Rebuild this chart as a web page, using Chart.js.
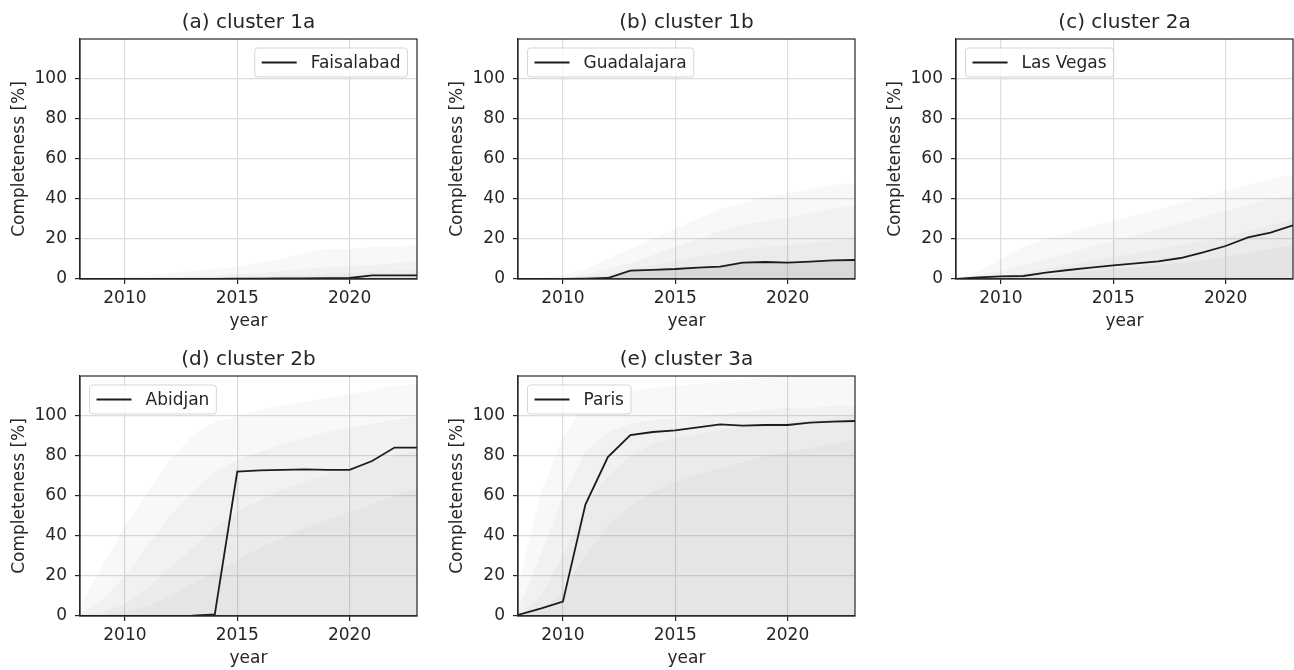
<!DOCTYPE html>
<html>
<head>
<meta charset="utf-8">
<script src="https://cdn.jsdelivr.net/npm/chart.js@4.4.1/dist/chart.umd.min.js"></script>
<style>
  html, body { margin: 0; padding: 0; background: #fff; overflow: hidden; }
  body { width: 1294px; height: 670px; position: relative; }
  canvas { position: absolute; }
</style>
</head>
<body>
<canvas id="pa" width="418" height="333" style="left:0px;top:0px"></canvas>
<canvas id="pb" width="418" height="333" style="left:438px;top:0px"></canvas>
<canvas id="pc" width="418" height="333" style="left:876px;top:0px"></canvas>
<canvas id="pd" width="418" height="333" style="left:0px;top:337px"></canvas>
<canvas id="pe" width="418" height="333" style="left:438px;top:337px"></canvas>
<script>
const years = [2008, 2009, 2010, 2011, 2012, 2013, 2014, 2015, 2016, 2017, 2018, 2019, 2020, 2021, 2022, 2023];
const xTicks = [2010, 2015, 2020];
const yTicks = [0, 20, 40, 60, 80, 100];

// highlighted city per cluster
const faisalabad  = [0, 0, 0, 0, 0, 0, 0.1, 0.2, 0.2, 0.3, 0.3, 0.4, 0.5, 1.8, 1.8, 1.8];
const guadalajara = [0, 0, 0, 0.2, 0.5, 4.2, 4.6, 5.0, 5.7, 6.2, 8.2, 8.5, 8.2, 8.7, 9.3, 9.5];
const lasVegas    = [0, 0.8, 1.3, 1.5, 3.2, 4.5, 5.7, 6.8, 7.8, 8.8, 10.5, 13.3, 16.5, 20.8, 23.2, 26.8];
const abidjan     = [0, 0, 0, 0, 0, 0.2, 0.8, 72.2, 72.8, 73.1, 73.3, 73.1, 73.1, 77.5, 84.2, 84.2];
const paris       = [0.5, 3.7, 7.2, 55.7, 79.5, 90.5, 92, 92.8, 94.3, 95.8, 95.2, 95.5, 95.5, 96.7, 97.2, 97.5];

// rough envelopes of the other cities in each cluster (faint grey mass)
const aOuter = [0, 0.5, 1, 2, 3, 4, 5, 6, 8, 10, 13, 15, 15, 16, 16, 17];
const aMid   = [0, 0, 0.3, 0.5, 1, 1.5, 2, 2.5, 3, 4, 5, 6, 6.5, 7, 8, 9];
const aInner = [0, 0, 0, 0.2, 0.4, 0.6, 0.8, 1, 1.3, 1.6, 2, 2.5, 3, 3.5, 4, 4.5];
const aBase  = [0, 0, 0, 0, 0.1, 0.2, 0.3, 0.4, 0.5, 0.7, 0.9, 1.1, 1.3, 1.6, 1.9, 2.2];

const bOuter = [0, 0.5, 2, 5, 10, 15, 20, 25, 30, 35, 38, 41, 43, 45, 47, 48];
const bMid   = [0, 0.2, 0.5, 2, 5, 8, 12, 16, 20, 24, 27, 29, 31, 33, 35, 37];
const bInner = [0, 0, 0.2, 1, 2.5, 5, 7, 9, 11, 13, 15, 16, 17, 18, 19, 20];
const bBase  = [0, 0, 0, 0.2, 0.5, 4, 4.5, 5, 5.6, 6.1, 8, 8.4, 8.1, 8.6, 9.2, 9.4];

const cOuter = [0, 4, 10, 16, 20, 23, 26, 29, 32, 35, 38, 41, 44, 47, 50, 52];
const cMid   = [0, 1.5, 4, 7, 10, 13, 16, 19, 22, 25, 28, 31, 34, 37, 40, 42];
const cInner = [0, 0.5, 1.5, 3, 5, 7, 9, 11, 13, 15, 17, 19, 21, 24, 27, 30];
const cBase  = [0, 0.2, 0.6, 1.2, 2, 3, 4, 5, 6, 7, 8, 9.5, 11, 13, 15, 17];

const dOuter = [5, 25, 45, 62, 78, 90, 97, 100, 103, 105, 107, 109, 111, 113, 115, 116];
const dMid   = [1, 8, 20, 35, 50, 62, 72, 78, 82, 86, 89, 92, 94, 96, 98, 100];
const dInner = [0, 2, 6, 14, 24, 34, 44, 52, 58, 63, 67, 71, 74, 77, 80, 83];
const dBase  = [0, 0.5, 2, 5, 10, 16, 22, 28, 34, 39, 44, 48, 52, 56, 60, 64];

const eOuter = [15, 60, 90, 105, 110, 112, 114, 115, 116, 117, 118, 119, 120, 120, 120, 120];
const eMid   = [3, 30, 60, 82, 92, 96, 98, 99, 100, 101, 102, 103, 104, 104, 105, 105];
const eInner = [0, 10, 30, 55, 70, 80, 86, 89, 91, 93, 95, 96, 97, 98, 99, 100];
const eBase  = [0, 3, 12, 30, 45, 55, 62, 67, 71, 74, 77, 80, 82, 84, 86, 88];

Chart.defaults.font.family = "'DejaVu Sans', sans-serif";
Chart.defaults.color = '#262626';

const INK = '#262626';

// box around the axes (matplotlib spines)
const frame = {
  id: 'frame',
  afterDatasetsDraw(chart) {
    const a = chart.chartArea, ctx = chart.ctx;
    ctx.save();
    ctx.strokeStyle = INK;
    ctx.lineWidth = 1.2;
    ctx.strokeRect(a.left, a.top, a.right - a.left, a.bottom - a.top);
    ctx.restore();
  }
};

// subplot title centred over the plot area, not the whole canvas
const plotTitle = {
  id: 'plotTitle',
  afterDraw(chart, args, opts) {
    const a = chart.chartArea, ctx = chart.ctx;
    ctx.save();
    ctx.font = "20px 'DejaVu Sans'";
    ctx.fillStyle = INK;
    ctx.textAlign = 'center';
    ctx.textBaseline = 'middle';
    ctx.fillText(opts.text, (a.left + a.right) / 2, 23);
    ctx.restore();
  }
};

// legend drawn inside the plot, like loc='upper left/right'
const insideLegend = {
  id: 'insideLegend',
  afterDatasetsDraw(chart, args, opts) {
    const ds = chart.data.datasets.find(d => d.label);
    if (!ds) return;
    const ctx = chart.ctx, a = chart.chartArea;
    ctx.save();
    ctx.font = "17px 'DejaVu Sans'";
    const tw = ctx.measureText(ds.label).width;
    const w = 7 + 35 + 14 + tw + 7, h = 29;
    const x = opts.side === 'right' ? a.right - 9.5 - w : a.left + 9.5;
    const y = a.top + 9;
    ctx.beginPath();
    ctx.roundRect(x, y, w, h, 3);
    ctx.fillStyle = 'rgba(255,255,255,0.8)';
    ctx.fill();
    ctx.strokeStyle = 'rgba(204,204,204,0.8)';
    ctx.lineWidth = 1;
    ctx.stroke();
    ctx.beginPath();
    ctx.moveTo(x + 7, y + h / 2);
    ctx.lineTo(x + 42, y + h / 2);
    ctx.strokeStyle = ds.borderColor;
    ctx.lineWidth = ds.borderWidth;
    ctx.stroke();
    ctx.fillStyle = INK;
    ctx.textBaseline = 'middle';
    ctx.fillText(ds.label, x + 56, y + h / 2 + 1);
    ctx.restore();
  }
};

function band(values, alpha) {
  return {
    data: values,
    borderWidth: 0,
    pointRadius: 0,
    fill: 'origin',
    backgroundColor: `rgba(120,120,120,${alpha})`
  };
}

function panel(id, title, city, values, layers, side, baseAlpha) {
  const bands = layers.map((l, i) => band(l, i === layers.length - 1 ? baseAlpha : 0.05));
  new Chart(document.getElementById(id), {
    type: 'line',
    data: {
      labels: years,
      datasets: [
        {
          label: city,
          data: values,
          borderColor: '#1c1c1c',
          borderWidth: 1.8,
          pointRadius: 0,
          fill: false
        },
        ...bands
      ]
    },
    options: {
      responsive: false,
      animation: false,
      devicePixelRatio: 1,
      layout: { padding: { left: 0, right: 1, top: 39, bottom: 0 } },
      plugins: {
        legend: { display: false },
        tooltip: { enabled: false },
        title: { display: false },
        plotTitle: { text: title },
        insideLegend: { side: side }
      },
      scales: {
        x: {
          type: 'linear',
          min: 2008,
          max: 2023,
          afterBuildTicks: s => { s.ticks = xTicks.map(v => ({ value: v })); },
          afterFit: s => { s.height = 54; },
          ticks: {
            callback: v => String(v),
            font: { size: 17 },
            color: INK,
            padding: 4,
            maxRotation: 0,
            autoSkip: false
          },
          grid: { color: '#dcdcdc', lineWidth: 1.2, tickLength: 5, tickColor: INK, tickWidth: 1.2 },
          border: { color: INK, width: 1.2 },
          title: { display: true, text: 'year', font: { size: 17 }, color: INK, padding: { top: 0, bottom: 1 } }
        },
        y: {
          min: 0,
          max: 120,
          afterBuildTicks: s => { s.ticks = yTicks.map(v => ({ value: v })); },
          afterFit: s => { s.width = 80; },
          ticks: { font: { size: 17 }, color: INK, padding: 8 },
          grid: { color: '#dcdcdc', lineWidth: 1.2, tickLength: 5, tickColor: INK, tickWidth: 1.2 },
          border: { color: INK, width: 1.2 },
          title: { display: true, text: 'Completeness [%]', font: { size: 17 }, color: INK, padding: { top: 9, bottom: 0 } }
        }
      }
    },
    plugins: [frame, insideLegend, plotTitle]
  });
}

panel('pa', '(a) cluster 1a', 'Faisalabad', faisalabad, [aOuter, aMid, aInner, aBase], 'right', 0.05);
panel('pb', '(b) cluster 1b', 'Guadalajara', guadalajara, [bOuter, bMid, bInner, bBase], 'left', 0.16);
panel('pc', '(c) cluster 2a', 'Las Vegas', lasVegas, [cOuter, cMid, cInner, cBase], 'left', 0.06);
panel('pd', '(d) cluster 2b', 'Abidjan', abidjan, [dOuter, dMid, dInner, dBase], 'left', 0.05);
panel('pe', '(e) cluster 3a', 'Paris', paris, [eOuter, eMid, eInner, eBase], 'left', 0.05);
</script>
</body>
</html>
